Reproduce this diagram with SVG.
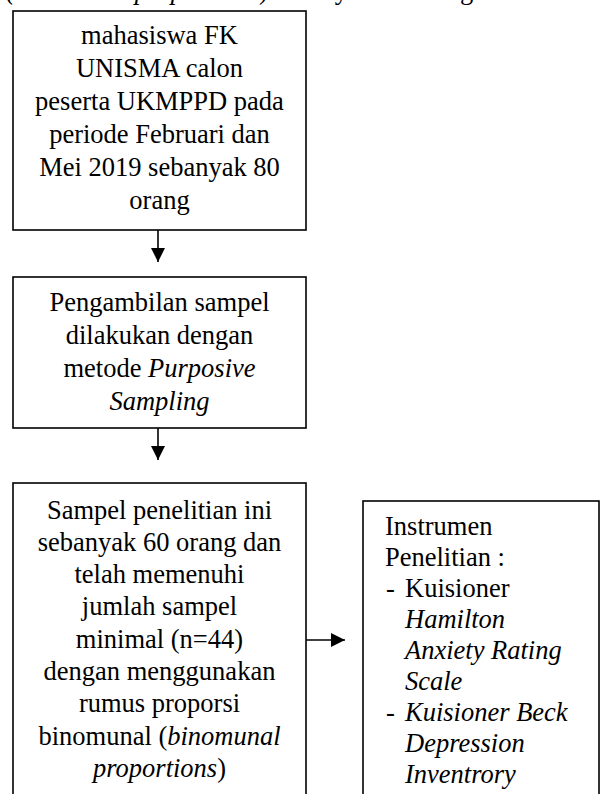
<svg xmlns="http://www.w3.org/2000/svg" width="601" height="794" viewBox="0 0 601 794">
<style>
  .box { fill: #fff; stroke: #000; stroke-width: 1.6; }
  .t { font-family: "Liberation Serif", "Times New Roman", serif; font-size: 26.5px; fill: #000; }
  .c { text-anchor: middle; }
  .i { font-style: italic; }
  .conn { stroke: #000; stroke-width: 1.6; fill: none; }
</style>
<defs>
  <marker id="arr" markerUnits="userSpaceOnUse" markerWidth="14" markerHeight="14" viewBox="0 0 14 14" refX="14" refY="7" orient="auto">
    <path d="M0,0 L14,7 L0,14 Z" fill="#000"/>
  </marker>
</defs>
<rect width="601" height="794" fill="#fff"/>
<text class="t" x="6" y="-1"><tspan class="i">(binomunal proportions</tspan>) sebanyak 44 orang.</text>
<g id="node1">
  <rect class="box" x="13" y="11" width="293" height="219"/>
  <text class="t c" x="159.5" y="44">mahasiswa FK</text>
  <text class="t c" x="159.5" y="77">UNISMA calon</text>
  <text class="t c" x="159.5" y="110">peserta UKMPPD pada</text>
  <text class="t c" x="159.5" y="143">periode Februari dan</text>
  <text class="t c" x="159.5" y="176">Mei 2019 sebanyak 80</text>
  <text class="t c" x="159.5" y="209">orang</text>
</g>
<g id="node2">
  <rect class="box" x="13" y="277" width="293" height="151"/>
  <text class="t c" x="159.5" y="311">Pengambilan sampel</text>
  <text class="t c" x="159.5" y="344">dilakukan dengan</text>
  <text class="t c" x="159.5" y="377">metode <tspan class="i">Purposive</tspan></text>
  <text class="t c i" x="159.5" y="410">Sampling</text>
</g>
<g id="node3">
  <rect class="box" x="13" y="483" width="293" height="330"/>
  <text class="t c" x="159.5" y="519">Sampel penelitian ini</text>
  <text class="t c" x="159.5" y="551">sebanyak 60 orang dan</text>
  <text class="t c" x="159.5" y="583">telah memenuhi</text>
  <text class="t c" x="159.5" y="615">jumlah sampel</text>
  <text class="t c" x="159.5" y="648">minimal (n=44)</text>
  <text class="t c" x="159.5" y="680">dengan menggunakan</text>
  <text class="t c" x="159.5" y="712">rumus proporsi</text>
  <text class="t c" x="159.5" y="745">binomunal (<tspan class="i">binomunal</tspan></text>
  <text class="t c" x="159.5" y="777"><tspan class="i">proportions</tspan>)</text>
</g>
<g id="node4">
  <rect class="box" x="363" y="501" width="236" height="320"/>
  <text class="t" x="385" y="535">Instrumen</text>
  <text class="t" x="385" y="566">Penelitian :</text>
  <text class="t" x="386" y="597">-</text>
  <text class="t" x="405" y="597">Kuisioner</text>
  <text class="t i" x="405" y="628">Hamilton</text>
  <text class="t i" x="405" y="659">Anxiety Rating</text>
  <text class="t i" x="405" y="690">Scale</text>
  <text class="t" x="386" y="721">-</text>
  <text class="t i" x="405" y="721">Kuisioner Beck</text>
  <text class="t i" x="405" y="752">Depression</text>
  <text class="t i" x="405" y="783">Inventrory</text>
</g>
<g id="connectors">
  <line class="conn" x1="158" y1="230" x2="158" y2="262" marker-end="url(#arr)"/>
  <line class="conn" x1="158" y1="428" x2="158" y2="460" marker-end="url(#arr)"/>
  <line class="conn" x1="306" y1="640" x2="345" y2="640" marker-end="url(#arr)"/>
</g>
</svg>
